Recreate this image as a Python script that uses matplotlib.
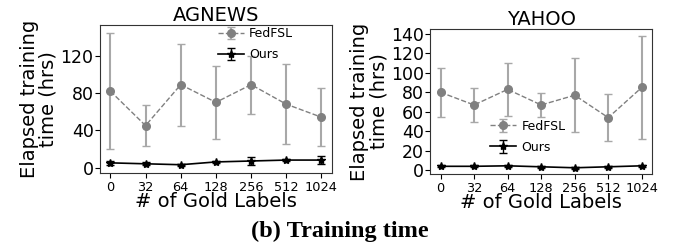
import matplotlib
matplotlib.use("Agg")
import matplotlib.pyplot as plt
import numpy as np

gold_labels = ["0", "32", "64", "128", "256", "512", "1024"]

ag_fedfsl = [82, 45, 89, 70, 89, 68, 54]
ag_fedfsl_err = [62, 22, 44, 39, 31, 43, 31]
ag_ours = [5, 4, 3, 6, 7, 8, 8]
ag_ours_err = [2.5, 1.5, 1, 1.5, 4.5, 1.5, 4.5]

ya_fedfsl = [80, 67, 83, 67, 77, 54, 85]
ya_fedfsl_err = [25, 17, 27, 12, 38, 24, 53]
ya_ours = [4, 4, 4.5, 3.5, 2.5, 3.5, 4.5]
ya_ours_err = [1, 1, 1, 1, 1, 1, 1]

fig = plt.figure(figsize=(6.79, 2.48), dpi=100)

def draw(ax, fed, fed_err, ours, ours_err, title, ylim, yticks, legend_kw):
    x = np.arange(len(gold_labels))
    ax.errorbar(x, fed, yerr=fed_err, color="#808080", ecolor="#a8a8a8",
                linestyle="--", linewidth=1, marker="o", markersize=5.5,
                capsize=3, elinewidth=1.5, capthick=1, label="FedFSL")
    ax.errorbar(x, ours, yerr=ours_err, color="black", ecolor="black",
                linestyle="-", linewidth=1.2, marker="*", markersize=6,
                capsize=3, elinewidth=1, label="Ours")
    ax.set_title(title, fontsize=14, pad=2)
    ax.set_xticks(x)
    ax.set_xticklabels(gold_labels, fontsize=9.3)
    ax.set_yticks(yticks)
    ax.tick_params(axis="y", labelsize=12.5, pad=1)
    ax.tick_params(axis="x", pad=2)
    ax.set_ylim(*ylim)
    ax.set_xlim(-0.3, 6.3)
    ax.set_xlabel("# of Gold Labels", fontsize=14, labelpad=-1)
    ax.set_ylabel("Elapsed training\ntime (hrs)", fontsize=14, labelpad=2, linespacing=1.0)
    ax.legend(frameon=False, fontsize=9, handlelength=2.1, borderpad=0.1,
              labelspacing=0.65, handletextpad=0.4, **legend_kw)
    for s in ax.spines.values():
        s.set_color("#333333")

ax1 = fig.add_axes([0.147, 0.302, 0.342, 0.597])
draw(ax1, ag_fedfsl, ag_fedfsl_err, ag_ours, ag_ours_err, "AGNEWS",
     (-6, 153), [0, 40, 80, 120], dict(loc="center", bbox_to_anchor=(0.67, 0.87)))

ax2 = fig.add_axes([0.634, 0.298, 0.326, 0.585])
draw(ax2, ya_fedfsl, ya_fedfsl_err, ya_ours, ya_ours_err, "YAHOO",
     (-4, 145), [0, 20, 40, 60, 80, 100, 120, 140], dict(loc="center", bbox_to_anchor=(0.44, 0.257)))

fig.text(0.5, 0.065, "(b) Training time", ha="center", va="center",
         fontsize=17.5, fontweight="bold", family="Liberation Serif")

fig.savefig("out.png", dpi=100)
